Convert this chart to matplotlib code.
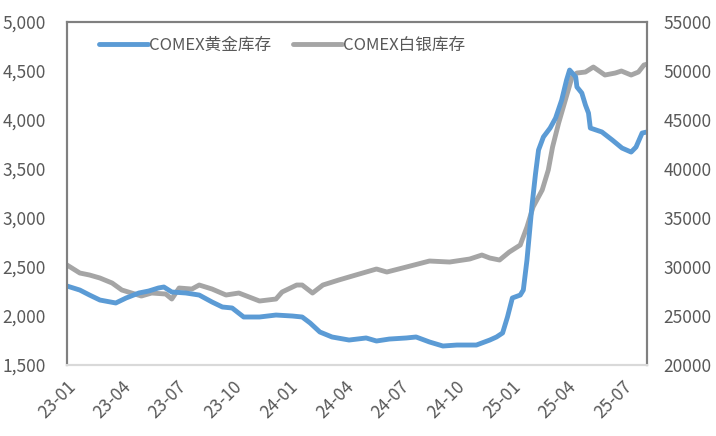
import matplotlib
matplotlib.use('Agg')
import matplotlib.pyplot as plt
import matplotlib.dates as mdates
import matplotlib.ticker as mticker
import pandas as pd

plt.rcParams['font.family'] = ['Noto Sans CJK SC', 'DejaVu Sans']

gold_dates = ['2023-01-01', '2023-01-22', '2023-02-07', '2023-02-24', '2023-03-22',
              '2023-04-08', '2023-04-29', '2023-05-15', '2023-05-31', '2023-06-09',
              '2023-06-22', '2023-07-15', '2023-08-06', '2023-08-27', '2023-09-13',
              '2023-09-29', '2023-10-18', '2023-11-13', '2023-12-10', '2024-01-06',
              '2024-01-22', '2024-02-04', '2024-02-20', '2024-03-11', '2024-04-08',
              '2024-05-06', '2024-05-23', '2024-06-13', '2024-07-11', '2024-07-27',
              '2024-08-18', '2024-09-09', '2024-10-02', '2024-11-03', '2024-11-25',
              '2024-12-06', '2024-12-16', '2024-12-24', '2025-01-01', '2025-01-14',
              '2025-01-19', '2025-01-25', '2025-02-02', '2025-02-08', '2025-02-13',
              '2025-02-21', '2025-03-04', '2025-03-13', '2025-03-23', '2025-03-31',
              '2025-04-05', '2025-04-15', '2025-04-17', '2025-04-25', '2025-05-01',
              '2025-05-06', '2025-05-09', '2025-05-28', '2025-06-14', '2025-06-30',
              '2025-07-15', '2025-07-23', '2025-08-02', '2025-08-10']
gold = [2306, 2265, 2214, 2163, 2133,
        2184, 2235, 2255, 2286, 2296,
        2245, 2235, 2214, 2143, 2092,
        2082, 1990, 1990, 2010, 2000,
        1990, 1929, 1837, 1786, 1755,
        1776, 1745, 1765, 1776, 1786,
        1735, 1694, 1704, 1704, 1755,
        1786, 1827, 1990, 2184, 2214,
        2265, 2571, 3112, 3450, 3694,
        3827, 3918, 4020, 4204, 4408,
        4510, 4439, 4337, 4276, 4153,
        4071, 3918, 3878, 3796, 3714,
        3673, 3724, 3867, 3878]

silver_dates = ['2023-01-01', '2023-01-22', '2023-02-07', '2023-02-24', '2023-03-16',
                '2023-04-01', '2023-04-17', '2023-05-03', '2023-05-20', '2023-06-12',
                '2023-06-22', '2023-07-04', '2023-07-25', '2023-08-06', '2023-08-27',
                '2023-09-19', '2023-10-10', '2023-11-13', '2023-12-10', '2023-12-20',
                '2024-01-13', '2024-01-22', '2024-02-08', '2024-02-25', '2024-03-22',
                '2024-04-19', '2024-05-23', '2024-06-09', '2024-07-11', '2024-08-18',
                '2024-09-20', '2024-10-23', '2024-11-12', '2024-11-25', '2024-12-11',
                '2024-12-27', '2025-01-14', '2025-01-17', '2025-01-25', '2025-02-04',
                '2025-02-19', '2025-03-01', '2025-03-08', '2025-03-18', '2025-03-29',
                '2025-04-09', '2025-04-17', '2025-05-01', '2025-05-14', '2025-06-02',
                '2025-06-19', '2025-06-29', '2025-07-15', '2025-07-27', '2025-08-05',
                '2025-08-10']
silver = [30204, 29388, 29184, 28878, 28367,
          27653, 27347, 27041, 27347, 27245,
          26735, 27857, 27755, 28163, 27755,
          27143, 27347, 26531, 26735, 27449,
          28163, 28163, 27347, 28163, 28673,
          29184, 29796, 29490, 30000, 30612,
          30510, 30816, 31224, 30918, 30714,
          31531, 32245, 32755, 34082, 36122,
          37857, 39898, 42245, 44694, 47041,
          49388, 49796, 49898, 50408, 49592,
          49796, 50000, 49592, 49898, 50612,
          50700]

gold_x = pd.to_datetime(gold_dates)
silver_x = pd.to_datetime(silver_dates)

fig = plt.figure(figsize=(7.16, 4.36), dpi=100)
ax = fig.add_axes([0.0936, 0.1628, 0.81, 0.7867])
ax2 = ax.twinx()

l1, = ax.plot(gold_x, gold, color='#5B9BD5', lw=3.5, solid_capstyle='round', label='COMEX黄金库存')
l2, = ax2.plot(silver_x, silver, color='#A5A5A5', lw=3.5, solid_capstyle='round', label='COMEX白银库存')
ax.set_zorder(ax2.get_zorder() + 1)
ax.patch.set_visible(False)

ax.set_ylim(1500, 5000)
ax.set_yticks(range(1500, 5001, 500))
ax.yaxis.set_major_formatter(mticker.StrMethodFormatter('{x:,.0f}'))
ax2.set_ylim(20000, 55000)
ax2.set_yticks(range(20000, 55001, 5000))

ax.set_xlim(pd.Timestamp('2023-01-01'), pd.Timestamp('2025-08-10'))
ax.xaxis.set_major_locator(mdates.MonthLocator(bymonth=[1, 4, 7, 10]))
ax.xaxis.set_major_formatter(mdates.DateFormatter('%y-%m'))

for a in (ax, ax2):
    a.tick_params(length=0, labelsize=12.5, colors='#595959')
    for s in a.spines.values():
        s.set_color('#808080')
        s.set_linewidth(1.5)
    a.spines['bottom'].set_color('#D9D9D9')
ax.tick_params(axis='y', pad=15)
ax2.tick_params(axis='y', pad=12)
ax.tick_params(axis='x', pad=9)

for lab in ax.get_xticklabels():
    lab.set_rotation(45)
    lab.set_ha('right')
    lab.set_rotation_mode('anchor')

ax.legend(handles=[l1, l2], loc='upper left', bbox_to_anchor=(0.03, 1.0), ncol=2,
          frameon=False, fontsize=12, labelcolor='#595959', handlelength=2.9,
          handletextpad=0.1, columnspacing=1.3)

fig.savefig('out.png', dpi=100)
